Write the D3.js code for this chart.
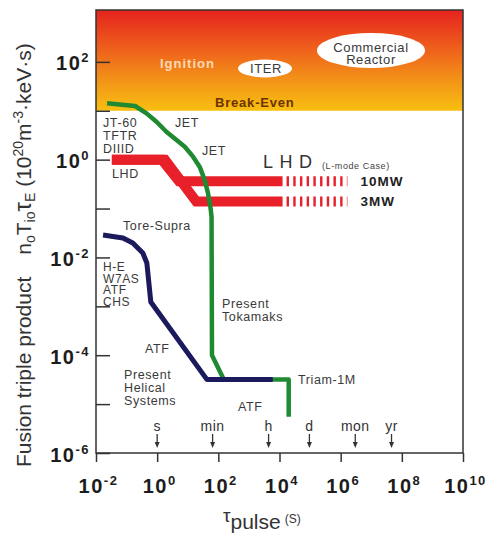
<!DOCTYPE html>
<meta charset="utf-8">
<style>
body { margin: 0; background: #fff; }
svg { font-family: "Liberation Sans", Arial, sans-serif; }
.lbl { font-size: 12.5px; fill: #3a3a3a; letter-spacing: 0.6px; }
.tick-label { font-size: 20px; font-weight: bold; fill: #1c1c1c; letter-spacing: 1.5px; }
.axis line { stroke: #333; stroke-width: 1.5; }
</style>
<svg width="490" height="534"></svg>
<script src="https://d3js.org/d3.v7.min.js"></script>
<script>

// pulse length (s) vs fusion triple product (1e20 m^-3 keV s)
var tokamak = [
  [0.023, 14.2], [0.19, 12.5], [0.45, 8.85], [0.95, 5.96], [2.0, 3.72],
  [4.3, 2.52], [8.0, 1.84], [14.9, 1.15], [24.7, 0.71], [36, 0.38],
  [46, 0.205], [55, 0.109], [60, 0.068], [62, 1.0e-4], [151, 3.2e-5],
  [2.0e4, 3.2e-5], [2.0e4, 5.5e-6]
];
var helical = [
  [0.017, 0.0287], [0.076, 0.025], [0.16, 0.0197], [0.34, 0.0123],
  [0.46, 0.0077], [0.62, 0.00123], [42, 3.2e-5], [6000, 3.2e-5]
];
var lhd10MW = [[0.033, 1.0], [1.42, 1.0], [5.2, 0.36], [1.26e4, 0.36]];
var lhd3MW  = [[0.033, 1.0], [1.8, 1.0], [19, 0.14], [1.26e4, 0.14]];
var lhdPlanned = [[1.26e4, 1.66e6, 0.36], [1.26e4, 1.66e6, 0.14]];
var lhdNames = ["10MW", "3MW"];

var breakEven = 10;
var xTicks = [1e-2, 1e0, 1e2, 1e4, 1e6, 1e8, 1e10];
var yTicks = [1e-6, 1e-5, 1e-4, 1e-3, 1e-2, 1e-1, 1e0, 1e1, 1e2];
var yLabelTicks = [1e-6, 1e-4, 1e-2, 1e0, 1e2];
var timeNames = ["s", "min", "h", "d", "mon", "yr"];
var timeValues = [1, 65, 4400, 9.5e4, 3.0e6, 4.6e7];

var svg = d3.select("svg");
var pL = 96, pR = 463, pT = 10, pB = 453;

var x = d3.scaleLog().domain([1e-2, 1e10]).range([pL, pR]);
var y = d3.scaleLog().domain([1e-6, 1150]).range([pB, pT]);

var line = d3.line()
    .x(function(d) { return x(d[0]); })
    .y(function(d) { return y(d[1]); });

// ignition region gradient
var grad = svg.append("defs").append("linearGradient")
    .attr("id", "ign").attr("x1", 0).attr("x2", 0).attr("y1", 0).attr("y2", 1);
grad.append("stop").attr("offset", "0%").attr("stop-color", "#e4231e");
grad.append("stop").attr("offset", "35%").attr("stop-color", "#ee5a1c");
grad.append("stop").attr("offset", "70%").attr("stop-color", "#f39418");
grad.append("stop").attr("offset", "100%").attr("stop-color", "#f8bf10");

svg.append("rect")
    .attr("x", pL).attr("y", pT)
    .attr("width", pR - pL).attr("height", y(breakEven) - pT)
    .attr("fill", "url(#ign)");

// ellipses
svg.append("ellipse").attr("cx", 265).attr("cy", 68.5).attr("rx", 27).attr("ry", 9)
    .attr("fill", "#fff");
svg.append("ellipse").attr("cx", 371).attr("cy", 50.5).attr("rx", 54).attr("ry", 17.5)
    .attr("fill", "#fff");

svg.append("text").attr("x", 160).attr("y", 68)
    .style("font-size", "13px").style("font-weight", "bold").style("letter-spacing", "1px")
    .attr("fill", "#fde3c8").attr("opacity", 0.9).text("Ignition");
svg.append("text").attr("x", 266).attr("y", 73).attr("text-anchor", "middle")
    .attr("class", "lbl").style("font-size", "13px").text("ITER");
svg.append("text").attr("x", 371).attr("y", 51.5).attr("text-anchor", "middle")
    .attr("class", "lbl").style("font-size", "13px").text("Commercial");
svg.append("text").attr("x", 371).attr("y", 64).attr("text-anchor", "middle")
    .attr("class", "lbl").style("font-size", "13px").text("Reactor");
svg.append("text").attr("x", 215).attr("y", 107)
    .style("font-size", "13px").style("font-weight", "bold").style("letter-spacing", "0.8px")
    .attr("fill", "#6a3300").text("Break-Even");

// axes
var yAxis = svg.append("g").attr("class", "axis")
    .attr("transform", "translate(" + pL + ",0)")
    .call(d3.axisLeft(y).tickValues(yTicks).tickSize(-14).tickFormat(""));
yAxis.select(".domain").remove();

var xAxis = svg.append("g").attr("class", "axis")
    .attr("transform", "translate(0," + pB + ")")
    .call(d3.axisBottom(x).tickValues(xTicks).tickSize(9).tickFormat(""));
xAxis.select(".domain").remove();

function powLabel(t, d) {
  var e = Math.round(Math.log10(d));
  t.append("tspan").text("10");
  t.append("tspan").attr("dy", -8).style("font-size", "13px").text(e);
}

yAxis.selectAll(".tick").filter(function(d) { return yLabelTicks.indexOf(d) >= 0; })
    .append("text").attr("class", "tick-label")
    .attr("x", -6).attr("y", 8).attr("text-anchor", "end")
    .each(function(d) { powLabel(d3.select(this), d); });

xAxis.selectAll(".tick").append("text").attr("class", "tick-label")
    .attr("x", 2).attr("y", 40).attr("text-anchor", "middle")
    .each(function(d) { powLabel(d3.select(this), d); });

svg.append("rect")
    .attr("x", pL).attr("y", pT)
    .attr("width", pR - pL).attr("height", pB - pT)
    .attr("fill", "none").attr("stroke", "#333").attr("stroke-width", 1.5);

// LHD bands
[lhd10MW, lhd3MW].forEach(function(b) {
  svg.append("path").datum(b).attr("d", line)
      .attr("fill", "none").attr("stroke", "#e8202a").attr("stroke-width", 10)
      .attr("stroke-linejoin", "miter");
});
svg.selectAll(".planned").data(lhdPlanned).enter().append("line")
    .attr("x1", function(d) { return x(d[0]) + 4; })
    .attr("x2", function(d) { return x(d[1]); })
    .attr("y1", function(d) { return y(d[2]); })
    .attr("y2", function(d) { return y(d[2]); })
    .attr("stroke", "#e8202a").attr("stroke-width", 10)
    .attr("stroke-dasharray", "2.4,4.3");
svg.selectAll(".mw").data(lhdPlanned).enter().append("text")
    .attr("x", function(d) { return x(d[1]) + 13; })
    .attr("y", function(d) { return y(d[2]) + 5; })
    .style("font-size", "13.5px").style("font-weight", "bold").style("letter-spacing", "1px")
    .attr("fill", "#222")
    .text(function(d, i) { return lhdNames[i]; });

svg.append("text").attr("x", 263).attr("y", 168)
    .style("font-size", "18px").style("letter-spacing", "6.5px").attr("fill", "#333").text("LHD");
svg.append("text").attr("x", 322).attr("y", 169)
    .style("font-size", "9px").style("letter-spacing", "0.6px").attr("fill", "#444").text("(L-mode Case)");

// tokamaks and helical systems
svg.append("path").datum(tokamak).attr("d", line)
    .attr("fill", "none").attr("stroke", "#1f8a32").attr("stroke-width", 4.5)
    .attr("stroke-linejoin", "round");
svg.append("path").datum(helical).attr("d", line)
    .attr("fill", "none").attr("stroke", "#1b1a5c").attr("stroke-width", 5)
    .attr("stroke-linejoin", "round");

var labels = [
  ["JT-60", 103, 127], ["TFTR", 103, 140], ["DIIID", 103, 153],
  ["JET", 175, 127], ["JET", 202, 155], ["LHD", 112, 178],
  ["Tore-Supra", 123, 230],
  ["H-E", 103, 271], ["W7AS", 103, 282.5], ["ATF", 103, 294], ["CHS", 103, 305.5],
  ["Present", 222, 308], ["Tokamaks", 222, 321],
  ["ATF", 145, 353],
  ["Present", 124, 379], ["Helical", 124, 392], ["Systems", 124, 405],
  ["ATF", 238, 411], ["Triam-1M", 298, 384]
];
svg.selectAll(".note").data(labels).enter().append("text")
    .attr("class", "lbl")
    .style("font-size", function(d) { return d[1] === 103 && d[2] > 260 ? "12px" : null; })
    .attr("x", function(d) { return d[1]; })
    .attr("y", function(d) { return d[2]; })
    .text(function(d) { return d[0]; });

// time markers
var marks = svg.selectAll(".tm").data(timeValues).enter().append("g")
    .attr("transform", function(d) { return "translate(" + x(d) + ",0)"; });
marks.append("text").attr("y", 431).attr("text-anchor", "middle")
    .style("font-size", "14px").style("letter-spacing", "0.5px").attr("fill", "#333")
    .text(function(d, i) { return timeNames[i]; });
marks.append("line").attr("y1", 434).attr("y2", 444)
    .attr("stroke", "#333").attr("stroke-width", 1.3);
marks.append("path").attr("d", "M-2.5,442L2.5,442L0,448Z").attr("fill", "#333");

// axis titles
var yt = svg.append("text")
    .attr("transform", "translate(31,467) rotate(-90)")
    .style("font-size", "21px").attr("fill", "#333");
yt.append("tspan").text("Fusion triple product");
yt.append("tspan").attr("dx", 22).text("n");
yt.append("tspan").attr("dy", 4).style("font-size", "14px").text("o");
yt.append("tspan").attr("dy", -4).text("T");
yt.append("tspan").attr("dy", 4).style("font-size", "14px").text("io");
yt.append("tspan").attr("dy", -4).style("font-size", "24px").text("τ");
yt.append("tspan").attr("dy", 4).style("font-size", "14px").text("E");
yt.append("tspan").attr("dy", -4).text(" (10");
yt.append("tspan").attr("dy", -8).style("font-size", "14px").text("20");
yt.append("tspan").attr("dy", 8).text("m");
yt.append("tspan").attr("dy", -8).style("font-size", "14px").text("-3");
yt.append("tspan").attr("dy", 8).text("·keV·s)");

var xt = svg.append("text").attr("x", 223).attr("y", 522).attr("fill", "#333");
xt.append("tspan").style("font-size", "19px").text("τ");
xt.append("tspan").attr("dy", 7).style("font-size", "21px").text("pulse");
xt.append("tspan").attr("dy", -6).attr("dx", 4).style("font-size", "12px").text("(S)");

</script>
